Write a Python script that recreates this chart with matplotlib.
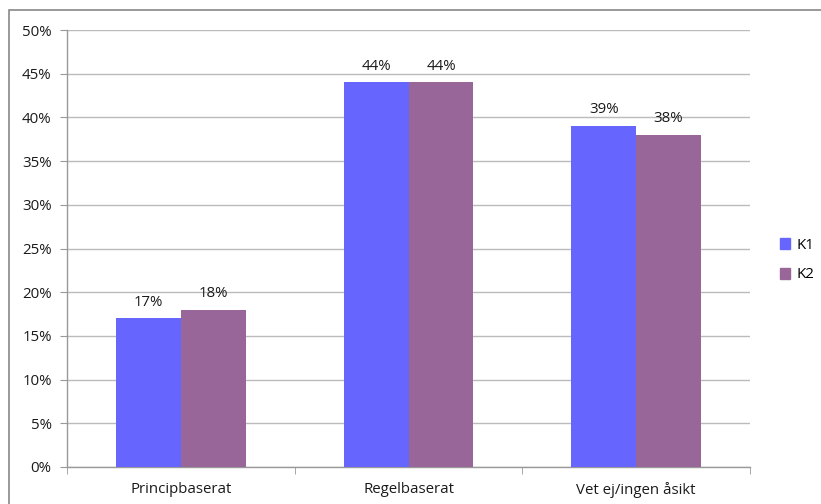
import matplotlib
matplotlib.use("Agg")
import matplotlib.pyplot as plt
from matplotlib.patches import Rectangle, Patch

categories = ["Principbaserat", "Regelbaserat", "Vet ej/ingen åsikt"]
series_names = ["K1", "K2"]
k1 = [17, 44, 39]
k2 = [18, 44, 38]
y_ticks = [0, 5, 10, 15, 20, 25, 30, 35, 40, 45, 50]

plt.rcParams['font.family'] = ['Open Sans', 'DejaVu Sans']
fig = plt.figure(figsize=(8.21, 5.04), dpi=100)
ax = fig.add_axes([67/821, 1-467/504, (750-67)/821, (467-30)/504])

c1 = "#6666FF"
c2 = "#996699"
w = 0.285
xs = range(len(categories))
b1 = ax.bar([x - w/2 for x in xs], k1, width=w, color=c1, zorder=3)
b2 = ax.bar([x + w/2 for x in xs], k2, width=w, color=c2, zorder=3)
for bars, vals in ((b1, k1), (b2, k2)):
    for b, v in zip(bars, vals):
        ax.text(b.get_x() + b.get_width()/2, v + 1.0, f"{v}%", ha='center', va='bottom',
                fontsize=10.8, color='#1a1a1a')

ax.set_xlim(-0.5, 2.5)
ax.set_ylim(0, 50)
ax.set_yticks(y_ticks)
ax.set_yticklabels([f"{t}%" for t in y_ticks], fontsize=10.8, color='#1a1a1a')
ax.set_xticks(list(xs))
ax.set_xticklabels(categories, fontsize=10.8, color='#1a1a1a')
ax.tick_params(axis='x', length=0, pad=11)
ax.set_xticks([-0.5, 0.5, 1.5, 2.5], minor=True)
ax.tick_params(axis='x', which='minor', length=5, color='#999999', direction='out')
ax.tick_params(axis='y', length=5, color='#999999', direction='out', pad=6)
ax.grid(axis='y', color='#BBBBBB', linewidth=1, zorder=0)
for s in ('top', 'right'):
    ax.spines[s].set_visible(False)
for s in ('left', 'bottom'):
    ax.spines[s].set_color('#999999')
    ax.spines[s].set_linewidth(1)

handles = [Patch(color=c1, label="K1"), Patch(color=c2, label="K2")]
fig.legend(handles=handles, loc='center left', bbox_to_anchor=(766/821, 1-260/504),
           frameon=False, fontsize=10.8, handlelength=0.7, handleheight=0.7,
           handletextpad=0.4, labelspacing=1.0)

fig.patches.append(Rectangle((9/821, -0.1), 1.2, 1-10/504 + 0.1, transform=fig.transFigure,
                             fill=False, edgecolor='#888888', linewidth=1.2))

fig.savefig("out.png", dpi=100)
